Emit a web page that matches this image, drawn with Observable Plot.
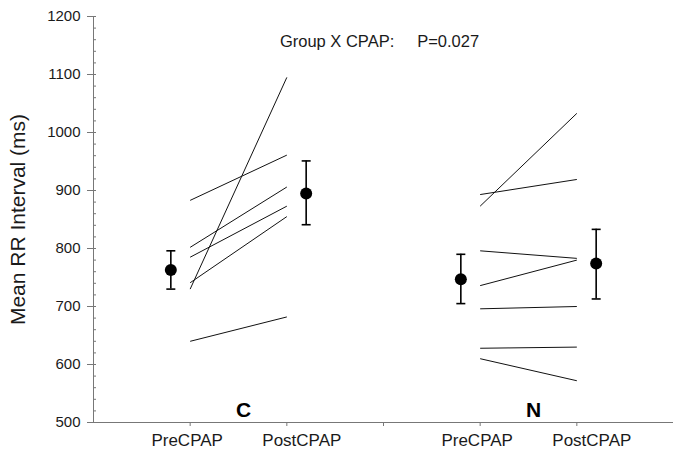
<!DOCTYPE html>
<html>
<head>
<meta charset="utf-8">
<script src="https://cdn.jsdelivr.net/npm/d3@7"></script>
<script src="https://cdn.jsdelivr.net/npm/@observablehq/plot@0.6"></script>
<style>
  body { margin: 0; background: #fff; }
  #chart svg { font-family: "Liberation Sans", Arial, sans-serif; background: #fff; }
</style>
</head>
<body>
<div id="chart"></div>
<script>
// ---- data ----
const groups = ["C", "N"];
const groupCenter = [1.5, 4.5];
const conditions = ["PreCPAP", "PostCPAP"];
const preTicks = [1, 4];
const postTicks = [2, 5];
const allTicks = [1, 2, 3, 4, 5];
const yTicks = [500, 600, 700, 800, 900, 1000, 1100, 1200];
const yMinorTicks = d3.range(500, 1201, 20);

// individual subjects
const cPre  = [883, 802, 785, 741, 730, 640];
const cPost = [961, 906, 873, 855, 1095, 682];
const nPre  = [893, 873, 796, 736, 696, 628, 610];
const nPost = [919, 1033, 783, 780, 700, 630, 572];

// group means with error bars
const meanGroup = ["C", "C", "N", "N"];
const meanCond  = ["PreCPAP", "PostCPAP", "PreCPAP", "PostCPAP"];
const meanX     = [0.8, 2.2, 3.8, 5.2];
const meanVal   = [763, 895, 747, 774];
const meanLo    = [730, 841, 705, 713];
const meanHi    = [796, 951, 790, 833];

const titleText = "Group X CPAP:\u00a0\u00a0\u00a0\u00a0\u00a0P=0.027";
const yLabel = "Mean RR Interval (ms)";

// ---- tables ----
const lines = [
  ...cPre.map((v, i) => ({group: "C", x1: preTicks[0], x2: postTicks[0], pre: v, post: cPost[i]})),
  ...nPre.map((v, i) => ({group: "N", x1: preTicks[1], x2: postTicks[1], pre: v, post: nPost[i]}))
];
const means = meanVal.map((v, i) => ({group: meanGroup[i], cond: meanCond[i], x: meanX[i], mean: v, lo: meanLo[i], hi: meanHi[i]}));
const groupRows = groups.map((g, i) => ({group: g, x: groupCenter[i]}));

const cap = {
  draw(context) { context.moveTo(-4.5, 0); context.lineTo(4.5, 0); }
};

const axisColor = "#777";
const textColor = "#1a1a1a";

const chart = Plot.plot({
  width: 673,
  height: 460,
  marginLeft: 93,
  marginRight: 0,
  marginTop: 16,
  marginBottom: 38,
  x: {domain: [0, 6], axis: null},
  y: {domain: [500, 1200], axis: null},
  marks: [
    // axis lines
    Plot.ruleX([0], {y1: 500, y2: 1200, stroke: axisColor, strokeWidth: 1}),
    Plot.ruleY([500], {x1: 0, x2: 6, stroke: axisColor, strokeWidth: 1.2}),
    // y axis
    Plot.axisY(yTicks, {anchor: "left", tickSize: 6, tickPadding: 7, fontSize: 15, tickFormat: d3.format("d"), stroke: axisColor, fill: textColor, label: null}),
    Plot.axisY(yMinorTicks, {anchor: "left", tickSize: 3, dx: 3, tickFormat: () => "", stroke: axisColor, label: null}),
    // x axis ticks
    Plot.axisX(allTicks, {anchor: "bottom", tickSize: 4, tickFormat: () => "", stroke: axisColor, label: null}),
    Plot.axisX(preTicks, {anchor: "bottom", tickSize: 0, tickPadding: 11, tickFormat: () => conditions[0], fontSize: 17, fill: textColor, label: null, dx: -3}),
    Plot.axisX(postTicks, {anchor: "bottom", tickSize: 0, tickPadding: 11, tickFormat: () => conditions[1], fontSize: 17, fill: textColor, label: null, dx: 15}),
    // subject lines
    Plot.link(lines, {x1: "x1", x2: "x2", y1: "pre", y2: "post", stroke: "#111", strokeWidth: 1}),
    // error bars
    Plot.ruleX(means, {x: "x", y1: "lo", y2: "hi", stroke: "#000", strokeWidth: 1.6}),
    Plot.dot(means, {x: "x", y: "hi", symbol: cap, stroke: "#000", strokeWidth: 1.6}),
    Plot.dot(means, {x: "x", y: "lo", symbol: cap, stroke: "#000", strokeWidth: 1.6}),
    Plot.dot(means, {x: "x", y: "mean", r: 6, fill: "#000", stroke: "none"}),
    // group labels
    Plot.text(groupRows, {x: "x", frameAnchor: "bottom", dy: -12, dx: 5, text: "group", fontWeight: "bold", fontSize: 21, fill: "#000", lineAnchor: "middle"}),
    // title
    Plot.text([titleText], {frameAnchor: "top", dy: 25, dx: -4, fontSize: 16.5, fill: textColor, lineAnchor: "middle"}),
    // y label
    Plot.text([yLabel], {frameAnchor: "left", textAnchor: "middle", rotate: -90, dx: -75, fontSize: 21, fill: textColor, lineAnchor: "middle"})
  ]
});
document.getElementById("chart").appendChild(chart);
</script>
</body>
</html>
